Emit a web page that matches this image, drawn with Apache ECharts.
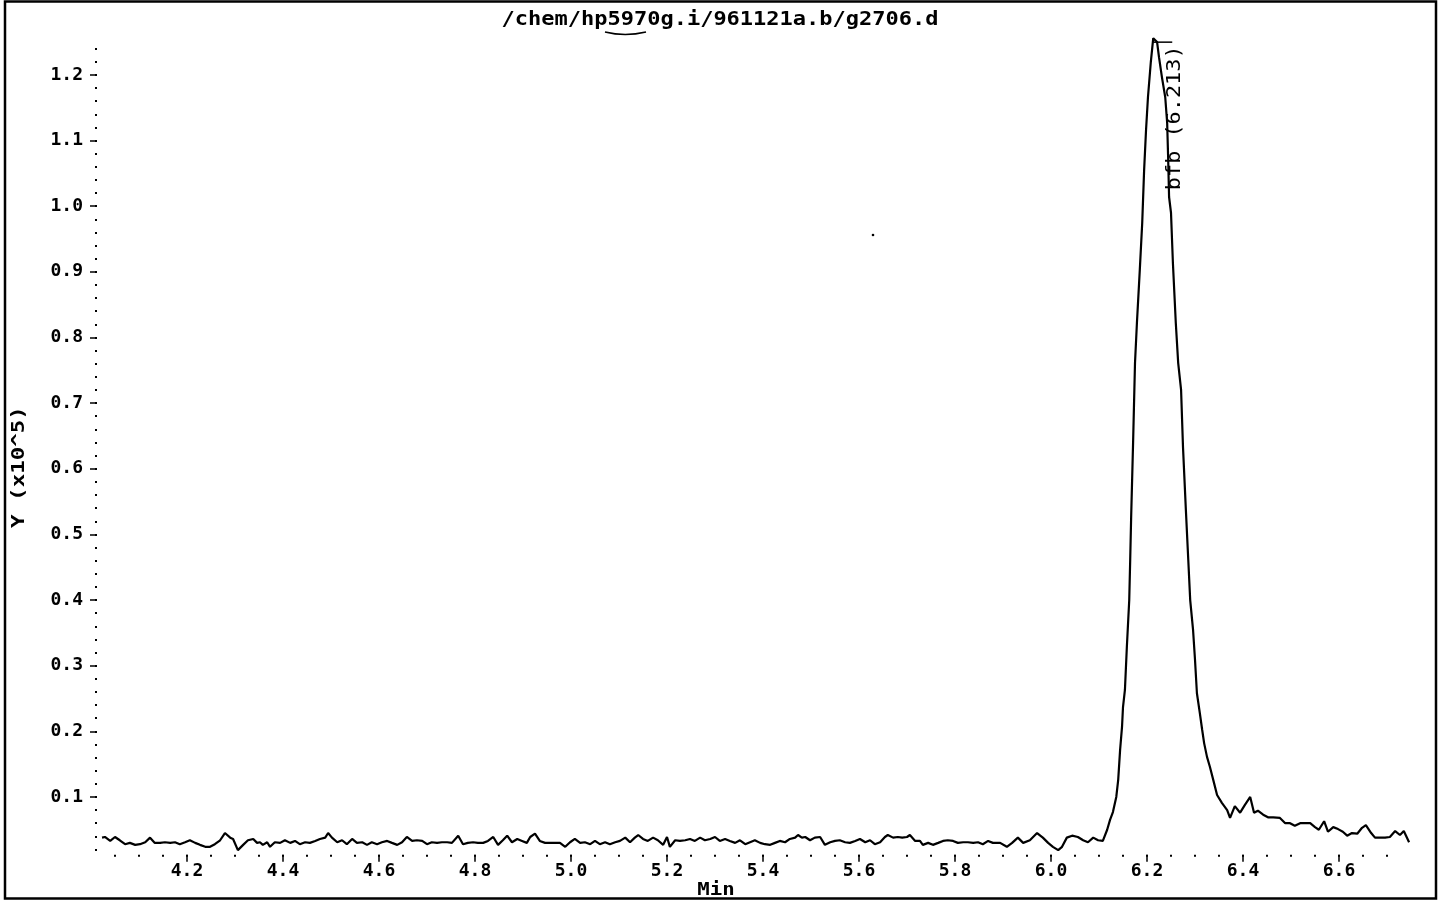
<!DOCTYPE html>
<html><head><meta charset="utf-8">
<script src="https://cdn.jsdelivr.net/npm/echarts@6/dist/echarts.min.js"></script>
<style>html,body{margin:0;padding:0;background:#fff}#c{width:1442px;height:901px}</style>
</head><body><div id="c"></div>
<script>
// ---- data (retention time in min, intensity in x10^5) ----
const titleText = '/chem/hp5970g.i/961121a.b/g2706.d';
const peakName = 'bfb';
const peakRT = 6.213;

const baselineScans = [
[4.023,.038],[4.029,.039],[4.040,.033],[4.050,.039],[4.060,.034],[4.071,.028],[4.081,.030],[4.092,.027],
[4.102,.028],[4.113,.031],[4.123,.038],[4.133,.030],[4.144,.030],[4.154,.031],[4.165,.030],[4.175,.031],
[4.185,.028],[4.196,.031],[4.206,.034],[4.217,.030],[4.227,.027],[4.238,.024],[4.248,.024],[4.258,.028],
[4.269,.034],[4.279,.045],[4.290,.038],[4.296,.036],[4.306,.019],[4.317,.027],[4.327,.034],[4.338,.036],
[4.346,.030],[4.352,.031],[4.358,.027],[4.367,.031],[4.373,.024],[4.383,.031],[4.394,.030],[4.404,.034],
[4.415,.030],[4.425,.033],[4.435,.028],[4.446,.031],[4.456,.030],[4.467,.033],[4.477,.036],[4.488,.038],
[4.494,.045],[4.502,.038],[4.513,.031],[4.523,.034],[4.533,.028],[4.544,.036],[4.554,.030],[4.565,.031],
[4.575,.027],[4.585,.031],[4.596,.028],[4.606,.031],[4.617,.033],[4.627,.030],[4.638,.027],[4.648,.031],
[4.658,.039],[4.669,.033],[4.679,.034],[4.690,.033],[4.700,.028],[4.710,.031],[4.721,.030],[4.731,.031],
[4.742,.031],[4.752,.030],[4.765,.041],[4.775,.028],[4.785,.030],[4.796,.031],[4.806,.030],[4.817,.030],
[4.827,.033],[4.838,.039],[4.848,.027],[4.858,.034],[4.867,.041],[4.877,.031],[4.888,.036],[4.898,.033],
[4.908,.030],[4.915,.039],[4.925,.044],[4.935,.033],[4.946,.030],[4.956,.030],[4.967,.030],[4.977,.030],
[4.988,.024],[4.998,.031],[5.008,.036],[5.019,.030],[5.029,.031],[5.040,.028],[5.050,.033],[5.060,.028],
[5.071,.031],[5.081,.028],[5.092,.031],[5.102,.033],[5.113,.038],[5.123,.031],[5.133,.038],[5.140,.042],
[5.150,.036],[5.160,.033],[5.171,.038],[5.181,.034],[5.192,.027],[5.200,.039],[5.206,.024],[5.217,.034],
[5.227,.033],[5.238,.034],[5.248,.036],[5.258,.033],[5.269,.038],[5.279,.034],[5.290,.036],[5.300,.039],
[5.310,.033],[5.321,.036],[5.331,.033],[5.342,.030],[5.352,.034],[5.363,.028],[5.373,.031],[5.383,.034],
[5.394,.030],[5.404,.028],[5.415,.027],[5.425,.030],[5.435,.033],[5.446,.031],[5.456,.036],[5.467,.038],
[5.473,.042],[5.481,.038],[5.488,.039],[5.498,.034],[5.508,.038],[5.519,.039],[5.529,.027],[5.540,.031],
[5.550,.033],[5.560,.034],[5.571,.031],[5.581,.030],[5.592,.033],[5.602,.036],[5.613,.031],[5.623,.034],
[5.633,.028],[5.644,.031],[5.654,.039],[5.660,.042],[5.671,.038],[5.681,.039],[5.690,.038],[5.700,.039],
[5.706,.042],[5.717,.033],[5.727,.033],[5.733,.027],[5.744,.030],[5.754,.027],[5.765,.030],[5.775,.033],
[5.785,.034],[5.796,.033],[5.806,.030],[5.817,.031],[5.827,.031],[5.838,.030],[5.848,.031],[5.858,.028],
[5.869,.033],[5.879,.030],[5.894,.030],[5.908,.024],[5.919,.030],[5.931,.038],[5.942,.030],[5.956,.034],
[5.971,.045],[5.983,.038],[5.994,.030],[6.004,.024],[6.015,.019],[6.023,.024],[6.033,.038],[6.044,.041],
[6.056,.039],[6.067,.034],[6.077,.031],[6.088,.038],[6.098,.034],[6.108,.033]
];

const peakScans = [
[6.117,.050],[6.123,.065],[6.129,.077],[6.136,.100],[6.140,.126],[6.144,.172],[6.148,.207],[6.150,.237],
[6.154,.263],[6.158,.328],[6.163,.400],[6.165,.461],[6.167,.527],[6.171,.639],[6.175,.761],[6.179,.822],
[6.185,.903],[6.190,.974],[6.194,1.055],[6.198,1.116],[6.202,1.166],[6.208,1.220],[6.213,1.256],[6.221,1.250],
[6.225,1.227],[6.231,1.197],[6.238,1.166],[6.242,1.127],[6.244,1.075],[6.246,1.014],[6.250,.990],[6.254,.913],
[6.260,.822],[6.265,.761],[6.271,.720],[6.275,.633],[6.281,.537],[6.286,.461],[6.290,.400],[6.296,.354],
[6.300,.309],[6.304,.258],[6.310,.228],[6.315,.202],[6.319,.182],[6.325,.161],[6.331,.146],[6.338,.126],
[6.346,.103]
];

const tailScans = [
[6.356,.091],[6.367,.080],[6.373,.068],[6.383,.086],[6.394,.076],[6.404,.088],[6.415,.100],[6.423,.076],
[6.431,.079],[6.442,.073],[6.452,.069],[6.463,.069],[6.477,.068],[6.488,.060],[6.498,.060],[6.508,.056],
[6.519,.060],[6.529,.060],[6.540,.060],[6.550,.054],[6.558,.050],[6.569,.063],[6.577,.047],[6.588,.054],
[6.598,.051],[6.608,.047],[6.617,.041],[6.627,.045],[6.638,.044],[6.648,.053],[6.656,.057],[6.667,.045],
[6.675,.038],[6.685,.038],[6.696,.038],[6.706,.039],[6.717,.048],[6.727,.042],[6.735,.048],[6.746,.031]
];

const xTickLabels = [4.2,4.4,4.6,4.8,5.0,5.2,5.4,5.6,5.8,6.0,6.2,6.4,6.6];
const yTickLabels = [0.1,0.2,0.3,0.4,0.5,0.6,0.7,0.8,0.9,1.0,1.1,1.2];

// axis extents
const X_MIN = 4.0125, X_MAX = 6.75;
const Y_MIN = 0.012, Y_MAX = 1.28;

// dotted axis marks (every 0.05 min / every 0.02 units)
const xDots = []; for (let k = 81; k <= 134; k++) xDots.push(+(k * 0.05).toFixed(2));
const yDots = []; for (let k = 1; k <= 62; k++) yDots.push(+(k * 0.02).toFixed(2));

const FONT = '"DejaVu Sans Mono", monospace';
const allScans = baselineScans.concat(peakScans, tailScans);

const chart = echarts.init(document.getElementById('c'), null, {renderer: 'canvas'});

const dotAxis = (vals, pos) => ({
  type: 'value', min: pos === 'bottom' ? X_MIN : Y_MIN, max: pos === 'bottom' ? X_MAX : Y_MAX,
  position: pos, axisLine: {show: false}, splitLine: {show: false},
  axisTick: {show: true, customValues: vals, length: 2, lineStyle: {color: '#000', width: 2}},
  axisLabel: {show: false}
});

chart.setOption({
  animation: false,
  backgroundColor: '#fff',
  grid: {left: 97, right: 31, top: 22.4, bottom: 46.3, containLabel: false},
  xAxis: [
    dotAxis(xDots, 'bottom'),
    {
      type: 'value', min: X_MIN, max: X_MAX, position: 'bottom',
      axisLine: {show: false}, splitLine: {show: false},
      axisTick: {show: true, customValues: xTickLabels, length: 7, lineStyle: {color: '#000', width: 1.5}},
      axisLabel: {show: true, customValues: xTickLabels, formatter: v => v.toFixed(1), margin: 8,
        color: '#000', fontFamily: FONT, fontSize: 18, fontWeight: 'bold'}
    }
  ],
  yAxis: [
    dotAxis(yDots, 'left'),
    {
      type: 'value', min: Y_MIN, max: Y_MAX, position: 'left',
      axisLine: {show: false}, splitLine: {show: false},
      axisTick: {show: true, customValues: yTickLabels, length: 7, lineStyle: {color: '#000', width: 1.5}},
      axisLabel: {show: true, customValues: yTickLabels, formatter: v => v.toFixed(1), margin: 14,
        color: '#000', fontFamily: FONT, fontSize: 18, fontWeight: 'bold'}
    }
  ],
  series: [{
    type: 'line', xAxisIndex: 0, yAxisIndex: 0, data: allScans,
    showSymbol: false, symbol: 'none', silent: true,
    lineStyle: {color: '#000', width: 2.2}
  }]
});

// annotation at the apex, placed through the chart's own scales
let apex = allScans[0];
allScans.forEach(p => { if (p[1] > apex[1]) apex = p; });
const ap = chart.convertToPixel({xAxisIndex: 0, yAxisIndex: 0}, [peakRT, apex[1]]);

chart.setOption({
  graphic: [
    {type: 'rect', shape: {x: 5, y: 1.5, width: 1431, height: 897},
     style: {fill: 'none', stroke: '#000', lineWidth: 2.5}, silent: true},
    {type: 'text', x: 720, y: 20, scaleX: 1.1,
     style: {text: titleText, fontFamily: FONT, fontSize: 20, fontWeight: 'bold', align: 'center', verticalAlign: 'middle', fill: '#000'}},
    {type: 'bezierCurve', shape: {x1: 605, y1: 32, x2: 646, y2: 32, cpx1: 625, cpy1: 37},
     style: {stroke: '#000', lineWidth: 1.5, fill: 'none'}},
    {type: 'circle', shape: {cx: 873, cy: 235, r: 1.3}, style: {fill: '#000'}},
    {type: 'text', x: 19, y: 528, rotation: Math.PI / 2, scaleX: 1.25,
     style: {text: 'Y (x10^5)', fontFamily: FONT, fontSize: 18, fontWeight: 'bold', align: 'left', verticalAlign: 'middle', fill: '#000'}},
    {type: 'text', x: 716, y: 890, scaleX: 1.15,
     style: {text: 'Min', fontFamily: FONT, fontSize: 18, fontWeight: 'bold', align: 'center', verticalAlign: 'middle', fill: '#000'}},
    {type: 'line', shape: {x1: ap[0], y1: ap[1] + 4, x2: ap[0] + 19, y2: ap[1] + 4},
     style: {stroke: '#000', lineWidth: 1.5}},
    {type: 'text', x: ap[0] + 22, y: ap[1] + 152, rotation: Math.PI / 2, scaleX: 1.15,
     style: {text: peakName + ' (' + peakRT.toFixed(3) + ')', fontFamily: FONT, fontSize: 19,
       align: 'left', verticalAlign: 'middle', fill: '#000'}}
  ]
});
</script>
</body></html>
